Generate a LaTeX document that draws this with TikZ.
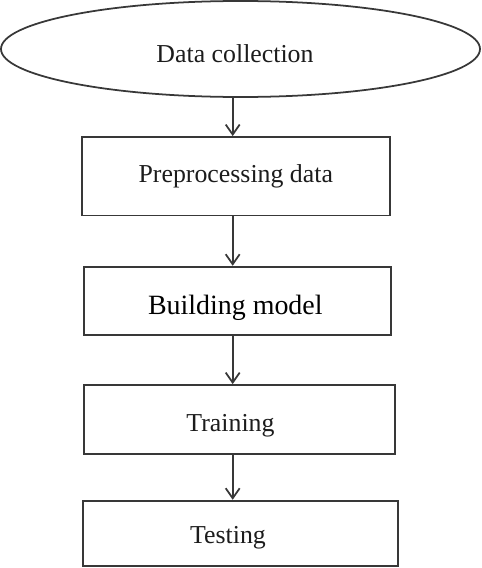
\documentclass[tikz,border=0pt]{standalone}
\usepackage{fontspec}
\setmainfont{Liberation Serif}
\usepackage{xcolor}
\usetikzlibrary{arrows.meta,shapes.geometric}
\definecolor{ink}{HTML}{383838}
\definecolor{txt}{HTML}{1C1C1C}
\tikzset{
  stepbox/.style={draw=ink, line width=1pt, rectangle, inner sep=0pt},
  startell/.style={draw=ink, line width=1pt, ellipse, inner sep=0pt},
  lbl/.style={anchor=base, inner sep=0pt, text=txt, font=\fontsize{14.7}{16}\selectfont},
  arr/.style={draw=ink, line width=1pt, -{Straight Barb[length=2mm,width=2.8mm]}},
}

\begin{document}
\begin{tikzpicture}[x=0.02cm,y=-0.02cm]
  \useasboundingbox (0,0) rectangle (482,568);
  \coordinate (axis) at (232.7,0);

  % shapes
  \node[startell, minimum width=479*0.02cm, minimum height=96*0.02cm] (dc) at (240.5,49) {};
  \node[stepbox, minimum width=308*0.02cm, minimum height=78.5*0.02cm] (pre) at (236,176.2) {};
  \node[stepbox, minimum width=306.7*0.02cm, minimum height=68.3*0.02cm] (bld) at (237.3,300.8) {};
  \node[stepbox, minimum width=311*0.02cm, minimum height=69*0.02cm] (trn) at (239.5,419.5) {};
  \node[stepbox, minimum width=315.3*0.02cm, minimum height=65.3*0.02cm] (tst) at (240.3,533.3) {};

  % texts
  \node[lbl] (dctext) at (235,62) {Data collection};
  \node[lbl] (pretext) at (235.8,182.7) {Preprocessing data};
  \node[lbl, text=black, font=\fontsize{15.9}{17}\selectfont] (bldtext) at (235.3,314) {Building model};
  \node[lbl] (trntext) at (230.5,431.7) {Training};
  \node[lbl] (tsttext) at (228,543.3) {Testing};

  \draw[arr] (dc.south -| axis) -- (pre.north -| axis);
  \draw[arr] (pre.south -| axis) -- (bld.north -| axis);
  \draw[arr] (bld.south -| axis) -- (trn.north -| axis);
  \draw[arr] (trn.south -| axis) -- (tst.north -| axis);
\end{tikzpicture}
\end{document}
